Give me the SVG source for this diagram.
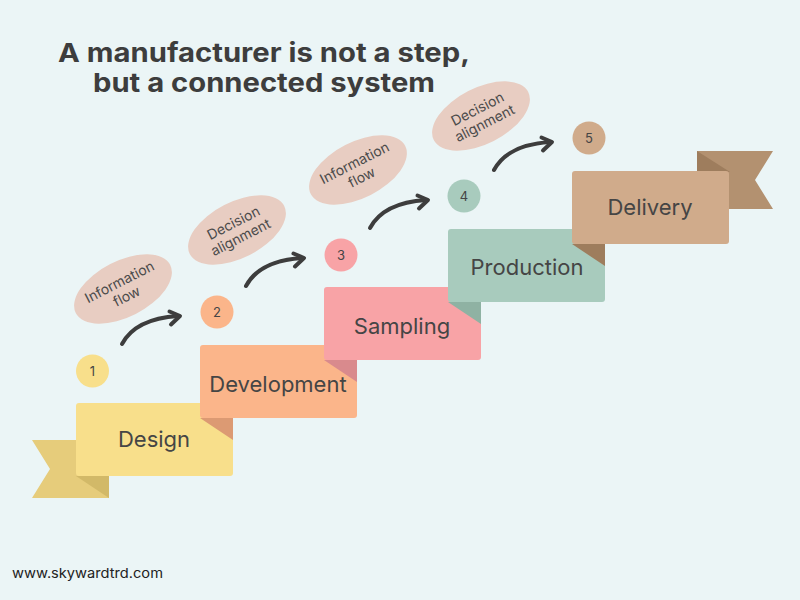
<svg xmlns="http://www.w3.org/2000/svg" xmlns:xlink="http://www.w3.org/1999/xlink" width="800" height="600" viewBox="0 0 800 600">
<style>
.title{font-family:Inter,"Liberation Sans",sans-serif;font-weight:700;font-size:26px;fill:#3d3d3d;text-anchor:middle}
.lbl{font-family:Inter,"Open Sans","Liberation Sans",sans-serif;font-size:22px;fill:#454545;text-anchor:middle}
.num{font-family:Inter,"Liberation Sans",sans-serif;font-size:13px;fill:#454545;text-anchor:middle}
.ell{fill:#e8cdc2}
.etx{font-family:Inter,"Liberation Sans",sans-serif;font-size:14px;fill:#4a4a4a;text-anchor:middle}
.arr{fill:none;stroke:#3d3d3d;stroke-width:4;stroke-linecap:round;stroke-linejoin:round}
.foot{font-family:Inter,"Liberation Sans",sans-serif;font-size:13.5px;fill:#222}
</style>
<defs>
<g id="arrow">
<path class="arr" d="M122,344 C130,329 147,318 178,316"/>
<path class="arr" d="M169.5,311.5 L180,316 L171,324.5"/>
</g>
</defs>
<rect width="800" height="600" fill="#ebf5f6"/>
<g id="title">
<text class="title" x="264" y="62" textLength="412" lengthAdjust="spacingAndGlyphs">A manufacturer is not a step,</text>
<text class="title" x="264" y="92" textLength="342" lengthAdjust="spacingAndGlyphs">but a connected system</text>
</g>
<g id="step-design">
<polygon points="32,440 109,440 109,498 32,498 50,469" fill="#e6cc7b"/>
<polygon points="76,476 109,476 109,498" fill="#d2b968"/>
<rect x="76" y="403" width="157" height="73" rx="3" fill="#f8df8b"/>
<text class="lbl" x="154" y="447">Design</text>
</g>
<g id="step-development">
<polygon points="200,418 233,418 233,440" fill="#dc9a73"/>
<rect x="200" y="345" width="157" height="73" rx="3" fill="#fbb58a"/>
<text class="lbl" x="278" y="392">Development</text>
</g>
<g id="step-sampling">
<polygon points="324,360 357,360 357,382" fill="#d98a8d"/>
<rect x="324" y="287" width="157" height="73" rx="3" fill="#f8a3a6"/>
<text class="lbl" x="402" y="334">Sampling</text>
</g>
<g id="step-production">
<polygon points="448,302 481,302 481,324" fill="#8fb2a3"/>
<rect x="448" y="229" width="157" height="73" rx="3" fill="#a8cbbd"/>
<text class="lbl" x="527" y="275">Production</text>
</g>
<g id="step-delivery">
<polygon points="697,151 773,151 755,180 773,209 697,209" fill="#b39170"/>
<polygon points="697,151 730,172 697,172" fill="#9e7d5d"/>
<polygon points="572,244 605,244 605,266" fill="#9e7d5d"/>
<rect x="572" y="171" width="157" height="73" rx="3" fill="#d0ab8b"/>
<text class="lbl" x="650" y="215">Delivery</text>
</g>
<g id="circle-1"><circle cx="92.5" cy="371" r="16.5" fill="#f8df8b"/><text class="num" x="92.5" y="376">1</text></g>
<g id="circle-2"><circle cx="217" cy="312" r="16.5" fill="#fbb58a"/><text class="num" x="217" y="317">2</text></g>
<g id="circle-3"><circle cx="341" cy="255" r="16.5" fill="#f8a3a6"/><text class="num" x="341" y="260">3</text></g>
<g id="circle-4"><circle cx="464" cy="196" r="16.5" fill="#a8cbbd"/><text class="num" x="464" y="201">4</text></g>
<g id="circle-5"><circle cx="589" cy="138" r="16.5" fill="#d0ab8b"/><text class="num" x="589" y="143">5</text></g>
<g id="bubble-1" transform="translate(123,289) rotate(-27)">
<ellipse class="ell" rx="53" ry="28"/>
<text class="etx" x="0" y="-3">Information</text><text class="etx" x="0" y="13">flow</text>
</g>
<g id="bubble-2" transform="translate(237,230) rotate(-27)">
<ellipse class="ell" rx="53" ry="28"/>
<text class="etx" x="0" y="-3">Decision</text><text class="etx" x="0" y="13">alignment</text>
</g>
<g id="bubble-3" transform="translate(358,170) rotate(-27)">
<ellipse class="ell" rx="53" ry="28"/>
<text class="etx" x="0" y="-3">Information</text><text class="etx" x="0" y="13">flow</text>
</g>
<g id="bubble-4" transform="translate(481,116) rotate(-27)">
<ellipse class="ell" rx="53" ry="28"/>
<text class="etx" x="0" y="-3">Decision</text><text class="etx" x="0" y="13">alignment</text>
</g>
<g id="connectors">
<use xlink:href="#arrow"/>
<use xlink:href="#arrow" transform="translate(124,-58)"/>
<use xlink:href="#arrow" transform="translate(248,-116)"/>
<use xlink:href="#arrow" transform="translate(372,-174)"/>
</g>
<text class="foot" x="12" y="578" textLength="151" lengthAdjust="spacingAndGlyphs">www.skywardtrd.com</text>
</svg>
